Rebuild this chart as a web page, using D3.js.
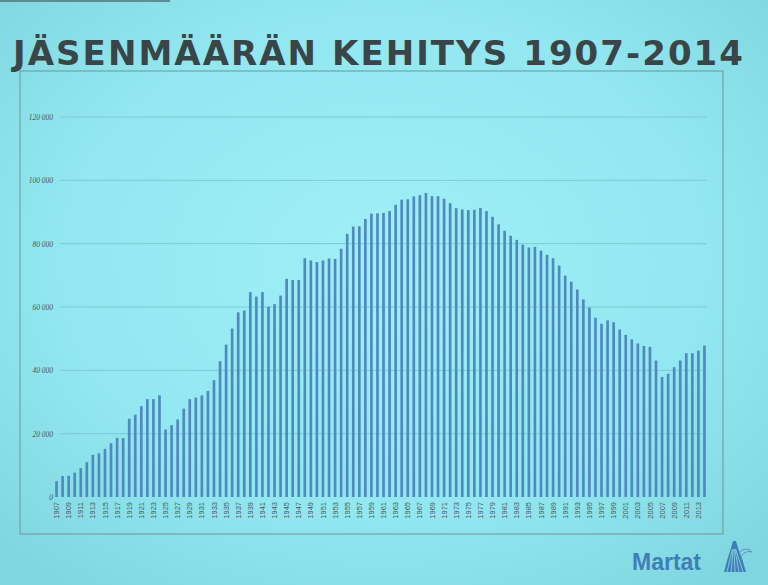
<!DOCTYPE html>
<html><head><meta charset="utf-8">
<script src="https://cdn.jsdelivr.net/npm/d3@7"></script>
<style>html,body{margin:0;padding:0;overflow:hidden;background:#8fe3ec}</style>
</head><body>
<script>
const titleText = "JÄSENMÄÄRÄN KEHITYS 1907-2014";
const firstYear = 1907, lastYear = 2014;
const years = d3.range(firstYear, lastYear + 1);
const members = [
  5000, 6600, 6700, 7700, 9100, 11000, 13300, 13800, 15200, 17000,
  18700, 18600, 24700, 26000, 28700, 30900, 30900, 32100, 21300, 22700,
  24500, 27900, 30900, 31400, 32100, 33500, 36900, 42900, 48100, 53200,
  58300, 58900, 64700, 63300, 64700, 60100, 60900, 63600, 68900, 68500,
  68500, 75400, 74700, 74200, 74700, 75300, 75200, 78400, 83100, 85400,
  85500, 87800, 89500, 89600, 89700, 90300, 92300, 93900, 94000, 94900,
  95300, 96000, 95000, 95000, 94200, 92800, 91200, 90800, 90600, 90700,
  91300, 90300, 88500, 86100, 84100, 82500, 81200, 79700, 78800, 79000,
  77800, 76500, 75400, 73100, 69900, 68000, 65500, 62400, 59800, 56600,
  54700, 55800, 55200, 52900, 51200, 49800, 48500, 47700, 47400, 43100,
  37900, 38900, 41000, 43100, 45400, 45400, 46200, 47800
];
const yTickValues = [0, 20000, 40000, 60000, 80000, 100000, 120000];
const yTickLabels = ["0", "20 000", "40 000", "60 000", "80 000", "100 000", "120 000"];
const xTickYears = years.filter(y => (y - firstYear) % 2 === 0);

const W = 768, H = 585;
const svg = d3.select("body").append("svg").attr("width", W).attr("height", H);

const defs = svg.append("defs");
const rg = defs.append("radialGradient").attr("id", "bg").attr("cx", "50%").attr("cy", "45%").attr("r", "70%");
rg.append("stop").attr("offset", "0%").attr("stop-color", "#a0eff7");
rg.append("stop").attr("offset", "60%").attr("stop-color", "#92e7f0");
rg.append("stop").attr("offset", "100%").attr("stop-color", "#80d6de");
svg.append("rect").attr("width", W).attr("height", H).attr("fill", "url(#bg)");
svg.append("rect").attr("x", 0).attr("y", 0).attr("width", 170).attr("height", 2).attr("fill", "#3c5860").attr("opacity", 0.6);

// title
svg.append("text").attr("x", 13).attr("y", 65)
  .attr("textLength", 730).attr("lengthAdjust", "spacing")
  .style("font-family", "'DejaVu Sans', sans-serif").style("font-weight", "bold")
  .style("font-size", "34px").attr("fill", "#3a4548")
  .text(titleText);

// frame
svg.append("rect").attr("x", 20).attr("y", 71).attr("width", 703).attr("height", 463)
  .attr("fill", "none").attr("stroke", "#6a979c").attr("stroke-width", 1);

const x = d3.scaleBand().domain(years).range([54, 707]).paddingInner(0.56).paddingOuter(0.2);
const y = d3.scaleLinear().domain([0, 120000]).range([497, 117]);

// gridlines
svg.append("g").selectAll("line").data(yTickValues.slice(1)).join("line")
  .attr("x1", 60).attr("x2", 707)
  .attr("y1", d => y(d)).attr("y2", d => y(d))
  .attr("stroke", "#7ccbd4").attr("stroke-width", 1);

// y axis labels
const yAxis = d3.axisLeft(y).tickValues(yTickValues).tickSize(0)
  .tickFormat((d, i) => yTickLabels[i]);
const gy = svg.append("g").attr("transform", "translate(56,0)").call(yAxis);
gy.select(".domain").remove();
gy.selectAll("text").attr("fill", "#4a5a5e").style("font-family", "'Liberation Serif', serif")
  .style("font-size", "7.5px").style("font-style", "italic");

// bars
svg.append("g").selectAll("rect").data(members).join("rect")
  .attr("x", (d, i) => x(years[i]))
  .attr("width", x.bandwidth())
  .attr("y", d => y(d))
  .attr("height", d => y(0) - y(d))
  .attr("fill", "#4f8abe");

// x axis labels
const xAxis = d3.axisBottom(x).tickValues(xTickYears).tickSize(0);
const gx = svg.append("g").attr("transform", `translate(0,${y(0)})`).call(xAxis);
gx.select(".domain").remove();
gx.selectAll("text")
  .attr("transform", "rotate(-90)")
  .attr("x", -5).attr("y", 0).attr("dy", "0.35em")
  .style("text-anchor", "end")
  .attr("fill", "#4a5a5e")
  .style("font-family", "'Liberation Sans', sans-serif").style("font-size", "7.5px");

// logo
svg.append("text").attr("x", 632).attr("y", 570)
  .style("font-family", "'Liberation Sans', Arial, sans-serif").style("font-weight", "bold")
  .style("font-size", "23px").attr("fill", "#3f7fb8").text("Martat");
const logo = svg.append("g");
logo.append("path")
  .attr("d", "M733,541 L736,541 L738,548 Q743,560 746,572 L724,572 Q727,560 731,548 Z")
  .attr("fill", "#3f7fb8");
[727, 731, 735, 739, 743].forEach((bx, i) => {
  logo.append("line").attr("x1", 734 + (i - 2) * 0.8).attr("y1", 549).attr("x2", bx).attr("y2", 572)
    .attr("stroke", "#8fdbe4").attr("stroke-width", 0.8);
});
logo.append("path").attr("d", "M740,552 Q746,546 752,552 Q746,550 741,556").attr("fill", "none")
  .attr("stroke", "#5a93c4").attr("stroke-width", 1);
</script>
</body></html>
